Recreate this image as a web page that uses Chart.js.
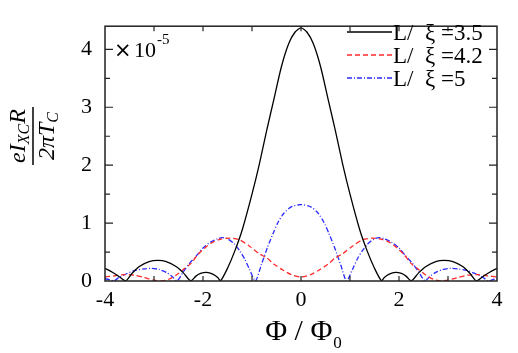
<!DOCTYPE html>
<html>
<head>
<meta charset="utf-8">
<script src="https://cdn.jsdelivr.net/npm/chart.js@4"></script>
<style>
  html, body { margin: 0; padding: 0; background: #fff; }
  #wrap { width: 518px; height: 353px; }
</style>
</head>
<body>
<div id="wrap"><canvas id="chart" width="518" height="353"></canvas></div>
<script>
// values (in units of 1e-5)
const phi35 = [-4, -3.85, -3.7, -3.58, -3.45, -3.3, -3.1, -2.92, -2.75, -2.55, -2.4, -2.25, -2.15, -2.05, -1.93, -1.8, -1.7, -1.645,
  -1.5, -1.35, -1.2, -1.0, -0.85, -0.7, -0.55, -0.4, -0.25, -0.12, 0,
  0.12, 0.25, 0.4, 0.55, 0.7, 0.85, 1.0, 1.2, 1.35, 1.5,
  1.645, 1.7, 1.8, 1.93, 2.05, 2.15, 2.25, 2.4, 2.55, 2.75, 2.92, 3.1, 3.3, 3.45, 3.58, 3.7, 3.85, 4];
const val35 = [0.22, 0.15, 0.07, 0, 0.13, 0.25, 0.335, 0.355, 0.335, 0.25, 0.14, 0, 0.08, 0.13, 0.15, 0.12, 0.06, 0,
  0.22, 0.52, 0.88, 1.5, 2.02, 2.6, 3.15, 3.7, 4.1, 4.3, 4.37,
  4.3, 4.1, 3.7, 3.15, 2.6, 2.02, 1.5, 0.88, 0.52, 0.22,
  0, 0.06, 0.12, 0.15, 0.13, 0.08, 0, 0.14, 0.25, 0.335, 0.355, 0.335, 0.25, 0.13, 0, 0.07, 0.15, 0.22];

const phi42 = [-4, -3.8, -3.6, -3.4, -3.2, -3.0, -2.85, -2.7, -2.55, -2.4, -2.25, -2.1, -1.95, -1.8, -1.65, -1.45, -1.25, -1.05, -0.85, -0.7, -0.55, -0.37, -0.2, 0,
  0.2, 0.37, 0.55, 0.7, 0.85, 1.05, 1.25, 1.45, 1.65, 1.8, 1.95, 2.1, 2.25, 2.4, 2.55, 2.7, 2.85, 3.0, 3.2, 3.4, 3.6, 3.8, 4];
const val42 = [0.07, 0.09, 0.11, 0.1, 0.06, 0.015, 0, 0.03, 0.1, 0.2, 0.3, 0.46, 0.58, 0.67, 0.72, 0.74, 0.71, 0.6, 0.47, 0.4, 0.29, 0.19, 0.11, 0.07,
  0.11, 0.19, 0.29, 0.4, 0.47, 0.6, 0.71, 0.74, 0.72, 0.67, 0.58, 0.46, 0.3, 0.2, 0.1, 0.03, 0, 0.015, 0.06, 0.1, 0.11, 0.09, 0.07];

const phi5 = [-4, -3.9, -3.82, -3.7, -3.55, -3.4, -3.2, -3.05, -2.9, -2.75, -2.62, -2.53, -2.4, -2.28, -2.15, -2.0, -1.85, -1.7, -1.6, -1.5, -1.36, -1.25, -1.15, -1.05, -0.93,
  -0.81, -0.68, -0.57, -0.47, -0.35, -0.2, 0, 0.2, 0.35, 0.47, 0.57, 0.68, 0.81,
  0.93, 1.05, 1.15, 1.25, 1.36, 1.5, 1.6, 1.7, 1.85, 2.0, 2.15, 2.28, 2.4, 2.53, 2.62, 2.75, 2.9, 3.05, 3.2, 3.4, 3.55, 3.7, 3.82, 3.9, 4];
const val5 = [0.04, 0.02, 0, 0.07, 0.13, 0.18, 0.21, 0.22, 0.2, 0.15, 0.07, 0, 0.16, 0.3, 0.42, 0.57, 0.67, 0.73, 0.75, 0.73, 0.64, 0.52, 0.38, 0.2, 0,
  0.28, 0.59, 0.82, 1.01, 1.17, 1.28, 1.32, 1.28, 1.17, 1.01, 0.82, 0.59, 0.28,
  0, 0.2, 0.38, 0.52, 0.64, 0.73, 0.75, 0.73, 0.67, 0.57, 0.42, 0.3, 0.16, 0, 0.07, 0.15, 0.2, 0.22, 0.21, 0.18, 0.13, 0.07, 0, 0.02, 0.04];

const seriesLabels = ['3.5', '4.2', '5'];
const xTicks = [-4, -2, 0, 2, 4];
const yTicks = [0, 1, 2, 3, 4];

const pts = (xs, ys) => xs.map((x, i) => ({ x: x, y: ys[i] }));
const serif = '"Liberation Serif", "DejaVu Serif", serif';

// frame, inward ticks on all sides, titles and legend
const framePlugin = {
  id: 'frame',
  afterDraw(chart) {
    const { ctx, chartArea: a, scales } = chart;
    const xs = scales.x, ys = scales.y;
    ctx.save();
    ctx.strokeStyle = '#222';
    ctx.lineWidth = 1.5;
    ctx.strokeRect(a.left, a.top, a.right - a.left, a.bottom - a.top);

    ctx.lineWidth = 1.2;
    ctx.beginPath();
    for (let v = -3; v <= 3; v += 1) {
      const px = xs.getPixelForValue(v);
      ctx.moveTo(px, a.bottom); ctx.lineTo(px, a.bottom - 5);
      ctx.moveTo(px, a.top); ctx.lineTo(px, a.top + 5);
    }
    for (let v = 0.5; v <= 4.01; v += 0.5) {
      const py = ys.getPixelForValue(v);
      const len = Number.isInteger(v) ? 8 : 5;
      ctx.moveTo(a.left, py); ctx.lineTo(a.left + len, py);
      ctx.moveTo(a.right, py); ctx.lineTo(a.right - len, py);
    }
    ctx.stroke();

    // x title
    ctx.fillStyle = '#000';
    ctx.textBaseline = 'alphabetic';
    ctx.font = '30px ' + serif;
    const t1 = 'Φ / Φ';
    const w1 = ctx.measureText(t1).width;
    ctx.font = '17px ' + serif;
    const w2 = ctx.measureText('0').width;
    let sx = 303 - (w1 + w2) / 2;
    ctx.font = '30px ' + serif;
    ctx.fillText(t1, sx, 340);
    ctx.font = '17px ' + serif;
    ctx.fillText('0', sx + w1 + 1, 348);

    // y title as a fraction, rotated
    ctx.save();
    ctx.translate(33, 136);
    ctx.rotate(-Math.PI / 2);
    const big = 'italic 24px ' + serif, small = 'italic 16px ' + serif;
    const drawRun = (parts, y) => {
      let w = 0;
      parts.forEach(p => { ctx.font = p[1] ? small : big; w += ctx.measureText(p[0]).width; });
      let x = -w / 2;
      parts.forEach(p => {
        ctx.font = p[1] ? small : big;
        ctx.fillText(p[0], x, y + (p[1] ? 4 : 0));
        x += ctx.measureText(p[0]).width;
      });
      return w;
    };
    drawRun([['eI', false], ['XC', true], ['R', false]], -8);
    drawRun([['2πT', false], ['C', true]], 21);
    ctx.lineWidth = 1.5;
    ctx.strokeStyle = '#000';
    ctx.beginPath();
    ctx.moveTo(-29, 0); ctx.lineTo(29, 0);
    ctx.stroke();
    ctx.restore();

    // exponent note
    ctx.font = '21px "DejaVu Sans", sans-serif';
    ctx.fillText('×', 114, 57);
    ctx.font = '22px ' + serif;
    ctx.fillText('10', 134, 57);
    ctx.font = '15px ' + serif;
    ctx.fillText('-5', 157, 44);

    // legend
    chart.data.datasets.forEach((ds, i) => {
      const y = 32 + i * 23;
      ctx.strokeStyle = ds.borderColor;
      ctx.lineWidth = ds.borderWidth;
      ctx.setLineDash(ds.borderDash || []);
      ctx.beginPath();
      ctx.moveTo(347, y); ctx.lineTo(392, y);
      ctx.stroke();
      ctx.setLineDash([]);
      ctx.fillStyle = '#000';
      ctx.font = '23px ' + serif;
      ctx.fillText('L/  ξ =' + seriesLabels[i], 393, y + 8);
    });
    ctx.restore();
  }
};

new Chart(document.getElementById('chart'), {
  type: 'line',
  data: {
    datasets: [
      { label: 'L/ξ=3.5', data: pts(phi35, val35), borderColor: '#000', borderWidth: 1.3 },
      { label: 'L/ξ=4.2', data: pts(phi42, val42), borderColor: '#ff2a2a', borderWidth: 1.3, borderDash: [5, 3] },
      { label: 'L/ξ=5', data: pts(phi5, val5), borderColor: '#2a2aff', borderWidth: 1.3, borderDash: [5, 2, 1, 2] }
    ]
  },
  options: {
    responsive: false,
    animation: false,
    devicePixelRatio: 1,
    layout: { padding: { top: 1, right: 21, left: 0, bottom: 0 } },
    elements: { point: { radius: 0 }, line: { tension: 0.25 } },
    plugins: { legend: { display: false }, tooltip: { enabled: false } },
    scales: {
      x: {
        type: 'linear', min: -4, max: 4,
        afterFit: s => { s.height = 72; },
        afterBuildTicks: s => { s.ticks = xTicks.map(v => ({ value: v })); },
        grid: { display: false, drawTicks: false },
        border: { display: false },
        ticks: { padding: 6, color: '#000', font: { family: serif, size: 22 } }
      },
      y: {
        type: 'linear', min: 0, max: 4.4,
        afterFit: s => { s.width = 105; },
        afterBuildTicks: s => { s.ticks = yTicks.map(v => ({ value: v })); },
        grid: { display: false, drawTicks: false },
        border: { display: false },
        ticks: { padding: 13, color: '#000', font: { family: serif, size: 22 } }
      }
    }
  },
  plugins: [framePlugin]
});
</script>
</body>
</html>
